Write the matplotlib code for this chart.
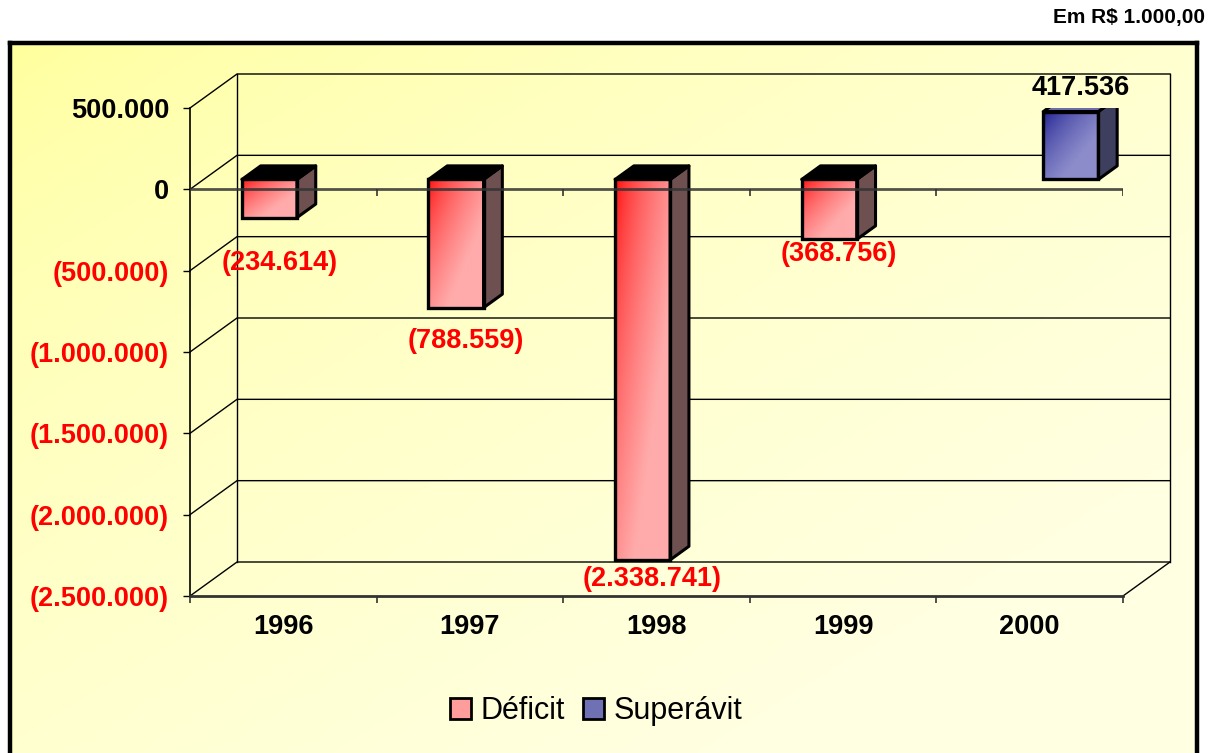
import numpy as np
import matplotlib.pyplot as plt
from matplotlib.patches import Polygon, Patch
from matplotlib.colors import LinearSegmentedColormap

plt.rcParams['font.family'] = ['Liberation Sans', 'DejaVu Sans']

# ===== DADOS =====

anos = ['1996', '1997', '1998', '1999', '2000']
deficit = [-234614, -788559, -2338741, -368756, None]
superavit = [None, None, None, None, 417536]
rotulos_deficit = ['(234.614)', '(788.559)', '(2.338.741)', '(368.756)', '']
rotulos_superavit = ['', '', '', '', '417.536']
yticks = [500000, 0, -500000, -1000000, -1500000, -2000000, -2500000]
ytick_rotulos = ['500.000', '0', '(500.000)', '(1.000.000)',
                 '(1.500.000)', '(2.000.000)', '(2.500.000)']

# ===== LAYOUT =====

W, H = 1215, 753
ymin, ymax = -2500000, 500000
ncat = len(anos)

fig = plt.figure(figsize=(W / 100, H / 100), dpi=100)

# fundo com degradê + borda
bg = fig.add_axes([10 / W, -0.02, 1187 / W, (H - 43) / H + 0.02])
yy, xx = np.mgrid[0:1:200j, 0:1:300j]
t = np.clip((xx + yy) / 1.6, 0, 1) ** 0.6
cmap_bg = LinearSegmentedColormap.from_list('bg', ['#FFFF99', '#FFFFE2'])
bg.imshow(t, cmap=cmap_bg, aspect='auto', extent=(0, 1, 0, 1), origin='upper')
bg.set_xticks([])
bg.set_yticks([])
for s in bg.spines.values():
    s.set_linewidth(3.2)
    s.set_color('black')

ax = fig.add_axes([190 / W, 157 / H, 933 / W, 488 / H])
ax.patch.set_visible(False)

sx = ncat / 933.0
sy = (ymax - ymin) / 488.0
dx, dy = 47 * sx, 34 * sy

# ===== PAREDES / GRADE =====

for v in yticks:
    ax.plot([0, dx, ncat + dx], [v + 0, v + dy, v + dy], color='black',
            lw=1, clip_on=False, zorder=1)
ax.plot([dx, dx], [ymin + dy, ymax + dy], color='black', lw=1, clip_on=False, zorder=1)
ax.plot([ncat + dx, ncat + dx], [ymin + dy, ymax + dy], color='black', lw=1,
        clip_on=False, zorder=1)
ax.plot([ncat, ncat + dx], [ymin, ymin + dy], color='black', lw=1, clip_on=False, zorder=1)

# ===== BARRAS =====

w = 0.295
f0, f1 = 0.29, 0.69

cores = {
    'def': dict(c0='#FF0000', c1='#FFABAB', lado='#6E5050', topo='#000000'),
    'sup': dict(c0='#10108A', c1='#8C8CCB', lado='#3E3E5E', topo='#6C6CAA'),
}


def gradiente(patch, c0, c1):
    x0, y0 = patch.get_x(), patch.get_y()
    x1, y1 = x0 + patch.get_width(), y0 + patch.get_height()
    yy, xx = np.mgrid[0:1:120j, 0:1:60j]
    g = np.clip(0.75 * xx + 0.75 * yy, 0, 1) ** 0.6
    cm = LinearSegmentedColormap.from_list('g', [c0, c1])
    im = ax.imshow(g, cmap=cm, aspect='auto', origin='upper', zorder=3,
                   extent=(x0, x1, min(y0, y1), max(y0, y1)))
    im.set_clip_path(patch)


def barra3d(xc, v, estilo):
    c = cores[estilo]
    ddx, ddy = (f1 - f0) * dx, (f1 - f0) * dy
    b = ax.bar([xc + f0 * dx], [v], bottom=f0 * dy, width=w, color='none',
               edgecolor='black', lw=2.4, zorder=4)[0]
    gradiente(b, c['c0'], c['c1'])
    xl = xc + f0 * dx - w / 2
    xr = xc + f0 * dx + w / 2
    ya, yb = f0 * dy, v + f0 * dy
    topo = max(ya, yb)
    lado = Polygon([(xr, ya), (xr + ddx, ya + ddy), (xr + ddx, yb + ddy), (xr, yb)],
                   closed=True, facecolor=c['lado'], edgecolor='black', lw=2.2,
                   joinstyle='round', zorder=3)
    cima = Polygon([(xl, topo), (xr, topo), (xr + ddx, topo + ddy), (xl + ddx, topo + ddy)],
                   closed=True, facecolor=c['topo'], edgecolor='black', lw=2.2,
                   joinstyle='round', zorder=3)
    ax.add_patch(lado)
    ax.add_patch(cima)


desloc_rotulos = [-45, -33, -19, -15, 0]

for i in range(ncat):
    if deficit[i] is not None:
        xc = i + 0.5 - w / 2
        barra3d(xc, deficit[i], 'def')
        ax.annotate(rotulos_deficit[i], (xc + 0.5 * dx, deficit[i] + f0 * dy),
                    xytext=(0, desloc_rotulos[i]), textcoords='offset pixels',
                    ha='center', va='center', fontsize=19.5, fontweight='bold',
                    color='#FF0000', zorder=6, annotation_clip=False)
    if superavit[i] is not None:
        xc = i + 0.5 + w / 2
        barra3d(xc, superavit[i], 'sup')
        ax.annotate(rotulos_superavit[i], (xc + 0.5 * dx, superavit[i] + f0 * dy),
                    xytext=(0, 24), textcoords='offset pixels',
                    ha='center', va='center', fontsize=19.5, fontweight='bold',
                    color='black', zorder=6, annotation_clip=False)

# linha do zero
ax.plot([0, ncat], [0, 0], color='#333333', lw=2, alpha=0.85, zorder=5)
ax.vlines(range(ncat + 1), -7 * sy, 0, color='#333333', lw=1.2, zorder=5)

# ===== EIXOS =====

ax.set_xlim(0, ncat)
ax.set_ylim(ymin, ymax)

ax.set_yticks(yticks)
ax.set_yticklabels(ytick_rotulos, fontsize=19.5, fontweight='bold')
for lbl, v in zip(ax.get_yticklabels(), yticks):
    lbl.set_color('#FF0000' if v < 0 else 'black')
ax.tick_params(axis='y', length=5, width=1, pad=10)

ax.set_xticks(range(ncat + 1))
ax.set_xticklabels([])
ax.set_xticks(np.arange(ncat) + 0.5, minor=True)
ax.set_xticklabels(anos, minor=True, fontsize=19.5, fontweight='bold')
ax.tick_params(axis='x', which='major', length=5, width=1.2, color='#333333')
ax.tick_params(axis='x', which='minor', length=0, pad=13)

ax.spines['top'].set_visible(False)
ax.spines['right'].set_visible(False)
ax.spines['left'].set_color('black')
ax.spines['left'].set_linewidth(1.2)
ax.spines['bottom'].set_color('#333333')
ax.spines['bottom'].set_linewidth(2)

# ===== TEXTOS / LEGENDA =====

fig.text(1205 / W, 1 - 17 / H, 'Em R$ 1.000,00', ha='right', va='center',
         fontsize=15, fontweight='bold')

handles = [Patch(facecolor='#FF9C9C', edgecolor='black', lw=2),
           Patch(facecolor='#7070B4', edgecolor='black', lw=2)]
fig.legend(handles, ['Déficit', 'Superávit'], loc='center',
           bbox_to_anchor=(596 / W, 1 - 711 / H), ncol=2, frameon=False,
           fontsize=22, handlelength=0.7, handleheight=0.7,
           handletextpad=0.3, columnspacing=0.6)

fig.savefig('out.png', dpi=100)
